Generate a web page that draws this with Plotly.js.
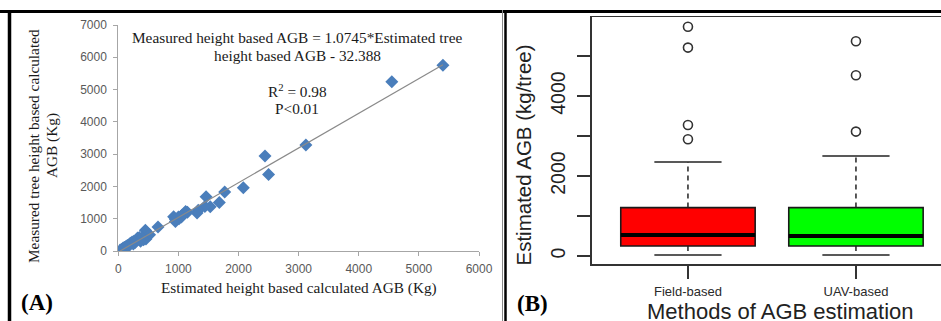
<!DOCTYPE html>
<html>
<head>
<meta charset="utf-8">
<script src="https://cdn.plot.ly/plotly-3.0.1.min.js"></script>
<style>
html,body{margin:0;padding:0;background:#fff;}
#chart{width:941px;height:321px;}
</style>
</head>
<body>
<div id="chart"></div>
<script>
// ---------- Panel A data: scatter of AGB ----------
const estAGB = [5400, 4550, 3120, 2440, 2500, 2080, 1770, 1680, 1460, 1530, 1440, 1330, 1310, 1120, 1100, 1060, 1000, 920, 950, 1010, 950, 1150, 1050,
  660, 450, 480, 460, 520, 350, 320, 300, 260, 230, 200, 180, 150, 120, 100, 80, 60, 50, 40, 90, 130, 170, 250, 280, 400, 420, 370, 30];
const measAGB = [5750, 5240, 3280, 2940, 2370, 1960, 1830, 1500, 1680, 1370, 1380, 1260, 1180, 1220, 1170, 1110, 1050, 1060, 910, 1000, 980, 1200, 1050,
  740, 640, 560, 370, 500, 420, 400, 330, 300, 280, 240, 190, 170, 130, 110, 90, 50, 40, 20, 60, 100, 150, 220, 260, 400, 350, 300, 30];
const slope = 1.0745, intercept = -32.388;
const xTicksA = [0, 1000, 2000, 3000, 4000, 5000, 6000];
const yTicksA = [0, 1000, 2000, 3000, 4000, 5000, 6000, 7000];

// ---------- Panel B data: boxplot stats ----------
const methods = ['Field-based', 'UAV-based'];
const boxColors = ['#ff0000', '#00ff00'];
const q1 = [250, 250];
const med = [525, 500];
const q3 = [1210, 1210];
const whiskLow = [25, 25];
const whiskHigh = [2350, 2500];
const outField = [5730, 5210, 3275, 2920];
const outUAV = [5370, 4520, 3110];
const yTickValsB = [0, 1000, 2000, 3000, 4000, 5000];
const yTickTextB = ['0', ' ', '2000', ' ', '4000', ' '];

// ---------- helpers ----------
const W = 941, H = 321;
const px = x => x / W;
const py = y => 1 - y / H;

const xmin = Math.min(...estAGB), xmax = Math.max(...estAGB);

const traces = [];
traces.push({
  type: 'scatter', mode: 'markers', x: estAGB, y: measAGB, xaxis: 'x', yaxis: 'y',
  marker: {symbol: 'diamond', size: 10, color: '#4a7ebb', line: {width: 0}},
  hoverinfo: 'skip', showlegend: false
});
traces.push({
  type: 'scatter', mode: 'lines', x: [xmin, xmax], y: [slope * xmin + intercept, slope * xmax + intercept],
  xaxis: 'x', yaxis: 'y', line: {color: '#8a8a8a', width: 1.2}, hoverinfo: 'skip', showlegend: false
});

// boxes
const pos = methods.map((m, i) => i + 1);
const halfW = 0.4, stapleW = 0.2;
traces.push({
  type: 'bar', x: pos, base: q1, y: q3.map((v, i) => v - q1[i]), width: 0.8,
  xaxis: 'x2', yaxis: 'y2',
  marker: {color: boxColors, line: {color: '#1a1a1a', width: 1.6}},
  hoverinfo: 'skip', showlegend: false
});
// whiskers dashed
const wx = [], wy = [];
pos.forEach((p, i) => { wx.push(p, p, null, p, p, null); wy.push(q3[i], whiskHigh[i], null, q1[i], whiskLow[i], null); });
traces.push({type: 'scatter', mode: 'lines', x: wx, y: wy, xaxis: 'x2', yaxis: 'y2',
  line: {color: '#222', width: 1.5, dash: '5px,4px'}, hoverinfo: 'skip', showlegend: false});
// staples
const sx = [], sy = [];
pos.forEach((p, i) => {
  sx.push(p - stapleW, p + stapleW, null, p - stapleW, p + stapleW, null);
  sy.push(whiskHigh[i], whiskHigh[i], null, whiskLow[i], whiskLow[i], null);
});
traces.push({type: 'scatter', mode: 'lines', x: sx, y: sy, xaxis: 'x2', yaxis: 'y2',
  line: {color: '#222', width: 1.5}, hoverinfo: 'skip', showlegend: false});
// medians
const mx = [], my = [];
pos.forEach((p, i) => { mx.push(p - halfW, p + halfW, null); my.push(med[i], med[i], null); });
traces.push({type: 'scatter', mode: 'lines', x: mx, y: my, xaxis: 'x2', yaxis: 'y2',
  line: {color: '#000', width: 4}, hoverinfo: 'skip', showlegend: false});
// outliers
const ox = outField.map(() => 1).concat(outUAV.map(() => 2));
const oy = outField.concat(outUAV);
traces.push({type: 'scatter', mode: 'markers', x: ox, y: oy, xaxis: 'x2', yaxis: 'y2',
  marker: {symbol: 'circle-open', size: 9, color: '#333', line: {width: 1.6, color: '#333'}},
  hoverinfo: 'skip', showlegend: false});

const serif = 'Liberation Serif, Times New Roman, serif';
const sans = 'Liberation Sans, Arial, sans-serif';
const SF = 15.3;

const layout = {
  width: W, height: H,
  margin: {l: 0, r: 0, t: 0, b: 0},
  paper_bgcolor: '#fff', plot_bgcolor: 'rgba(0,0,0,0)',
  showlegend: false,
  xaxis: {
    domain: [px(118.3), px(479)], range: [0, 6000], anchor: 'y',
    tickvals: xTicksA, showgrid: false, zeroline: false,
    showline: true, linecolor: '#a6a6a6', linewidth: 1,
    ticks: 'outside', ticklen: 4, tickcolor: '#a6a6a6',
    ticklabelstandoff: 3,
    tickfont: {family: sans, size: 12, color: '#595959'}
  },
  yaxis: {
    domain: [py(251), py(25)], range: [0, 7000], anchor: 'x',
    tickvals: yTicksA, showgrid: false, zeroline: false,
    showline: true, linecolor: '#a6a6a6', linewidth: 1,
    ticks: 'outside', ticklen: 4, tickcolor: '#a6a6a6',
    ticklabelstandoff: 4,
    tickfont: {family: sans, size: 12, color: '#595959'}
  },
  xaxis2: {
    domain: [px(591.7), 1], range: [0.427, 0.427 + (941 - 591.7) / 168], anchor: 'y2',
    tickvals: pos, ticktext: methods, showgrid: false, zeroline: false,
    showline: true, mirror: true, linecolor: '#333', linewidth: 1.5,
    ticks: 'outside', ticklen: 13, tickcolor: '#333', tickwidth: 1.5,
    ticklabelstandoff: 2,
    tickfont: {family: sans, size: 13, color: '#2a2a2a'}
  },
  yaxis2: {
    domain: [py(264.3), py(17.3)], range: [-207.5, 5967.5], anchor: 'x2',
    tickvals: yTickValsB, ticktext: yTickTextB, tickangle: -90,
    showgrid: false, zeroline: false,
    showline: true, mirror: false, linecolor: '#333', linewidth: 1.5,
    ticks: 'outside', ticklen: 13, tickcolor: '#333', tickwidth: 1.5,
    ticklabelstandoff: 4,
    tickfont: {family: sans, size: 19.5, color: '#222'}
  },
  annotations: [
    {text: 'Measured height based AGB = 1.0745*Estimated tree', xref: 'paper', yref: 'paper', x: px(297), y: py(37.7),
      xanchor: 'center', yanchor: 'middle', showarrow: false, font: {family: serif, size: SF, color: '#1a1a1a'}},
    {text: 'height based AGB - 32.388', xref: 'paper', yref: 'paper', x: px(297), y: py(55),
      xanchor: 'center', yanchor: 'middle', showarrow: false, font: {family: serif, size: SF, color: '#1a1a1a'}},
    {text: 'R<sup>2</sup> = 0.98', xref: 'paper', yref: 'paper', x: px(297), y: py(90.7),
      xanchor: 'center', yanchor: 'middle', showarrow: false, font: {family: serif, size: SF, color: '#1a1a1a'}},
    {text: 'P&lt;0.01', xref: 'paper', yref: 'paper', x: px(297), y: py(108.3),
      xanchor: 'center', yanchor: 'middle', showarrow: false, font: {family: serif, size: SF, color: '#1a1a1a'}},
    {text: 'Estimated height based calculated AGB (Kg)', xref: 'paper', yref: 'paper', x: px(299), y: py(288),
      xanchor: 'center', yanchor: 'middle', showarrow: false, font: {family: serif, size: SF, color: '#1a1a1a'}},
    {text: 'Measured tree height based calculated', xref: 'paper', yref: 'paper', x: px(33), y: py(146),
      xanchor: 'center', yanchor: 'middle', textangle: -90, showarrow: false, font: {family: serif, size: SF, color: '#1a1a1a'}},
    {text: 'AGB (Kg)', xref: 'paper', yref: 'paper', x: px(52), y: py(146),
      xanchor: 'center', yanchor: 'middle', textangle: -90, showarrow: false, font: {family: serif, size: SF, color: '#1a1a1a'}},
    {text: '<b>(A)</b>', xref: 'paper', yref: 'paper', x: px(36.5), y: py(302),
      xanchor: 'center', yanchor: 'middle', showarrow: false, font: {family: serif, size: 23, color: '#000'}},
    {text: '<b>(B)</b>', xref: 'paper', yref: 'paper', x: px(532.5), y: py(303),
      xanchor: 'center', yanchor: 'middle', showarrow: false, font: {family: serif, size: 23, color: '#000'}},
    {text: 'Estimated AGB (kg/tree)', xref: 'paper', yref: 'paper', x: px(523), y: py(155.5),
      xanchor: 'center', yanchor: 'middle', textangle: -90, showarrow: false, font: {family: sans, size: 20.5, color: '#222'}},
    {text: 'Methods of AGB estimation', xref: 'paper', yref: 'paper', x: px(780), y: py(311),
      xanchor: 'center', yanchor: 'middle', showarrow: false, font: {family: sans, size: 22, color: '#222'}}
  ],
  shapes: [
    {type: 'line', xref: 'paper', yref: 'paper', x0: 0, x1: 1, y0: py(11.5), y1: py(11.5), line: {color: '#000', width: 3}},
    {type: 'line', xref: 'paper', yref: 'paper', x0: px(9.5), x1: px(9.5), y0: py(10), y1: 0, line: {color: '#000', width: 3.5}},
    {type: 'line', xref: 'paper', yref: 'paper', x0: px(505.5), x1: px(505.5), y0: py(10), y1: 0, line: {color: '#000', width: 2.5}},
    {type: 'line', xref: 'paper', yref: 'paper', x0: px(502.5), x1: px(502.5), y0: py(10), y1: 0, line: {color: '#888', width: 1}}
  ]
};

Plotly.newPlot('chart', traces, layout, {displayModeBar: false, staticPlot: true});
</script>
</body>
</html>
